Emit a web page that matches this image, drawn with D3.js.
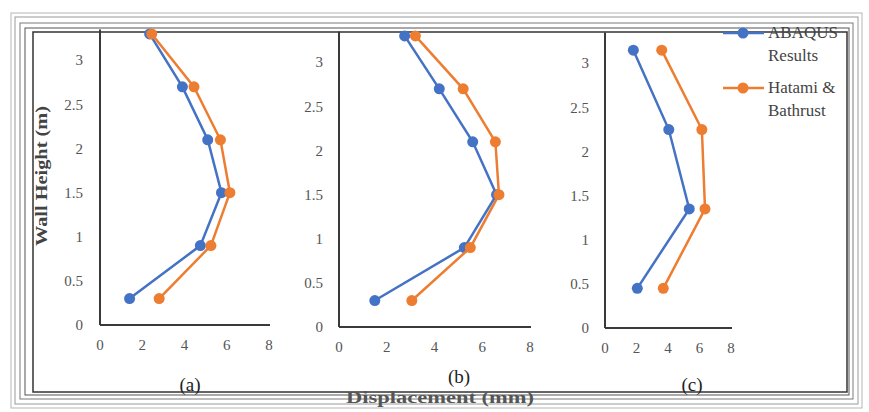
<!DOCTYPE html>
<html>
<head>
<meta charset="utf-8">
<script src="https://cdn.jsdelivr.net/npm/d3@7/dist/d3.min.js"></script>
<style>
  html, body { margin: 0; padding: 0; background: #fff; }
  svg { display: block; }
  text { font-family: "Liberation Serif", "DejaVu Serif", serif; }
</style>
</head>
<body>
<svg id="chart" width="869" height="412"></svg>
<script>
// Wall displacement profiles: ABAQUS results vs. Hatami & Bathurst
const seriesNames = ["ABAQUS Results", "Hatami & Bathrust"];
const panelLabels = ["(a)", "(b)", "(c)"];
const xTicks = [0, 2, 4, 6, 8];
const yTicks = [0, 0.5, 1, 1.5, 2, 2.5, 3];

// heights (m) of the measuring points
const heightsAB = [3.3, 2.7, 2.1, 1.5, 0.9, 0.3];
const heightsC = [3.15, 2.25, 1.35, 0.45];

// displacement (mm) at each height
const aAbaqus = [2.35, 3.9, 5.1, 5.75, 4.75, 1.4];
const aHatami = [2.45, 4.45, 5.7, 6.15, 5.25, 2.8];
const bAbaqus = [2.75, 4.2, 5.6, 6.6, 5.25, 1.5];
const bHatami = [3.2, 5.2, 6.55, 6.7, 5.5, 3.05];
const cAbaqus = [1.8, 4.05, 5.35, 2.05];
const cHatami = [3.6, 6.15, 6.35, 3.7];

const colors = ["#4472C4", "#ED7D31"];

const svg = d3.select("#chart");

// ---- decorative frame ----
const frame = svg.append("g").attr("fill", "none");
frame.append("rect").attr("x", 11).attr("y", 13).attr("width", 851).attr("height", 395)
  .attr("stroke", "#b5b5b5").attr("stroke-width", 1);
frame.append("rect").attr("x", 15).attr("y", 17).attr("width", 843).attr("height", 387)
  .attr("stroke", "#9a9a9a").attr("stroke-width", 1);
frame.append("rect").attr("x", 20).attr("y", 23).attr("width", 833).attr("height", 376)
  .attr("stroke", "#7a7a7a").attr("stroke-width", 1);
frame.append("rect").attr("x", 25).attr("y", 28).attr("width", 824).attr("height", 367)
  .attr("stroke", "#555").attr("stroke-width", 1);
frame.append("rect").attr("x", 33).attr("y", 32).attr("width", 814).attr("height", 360)
  .attr("stroke", "#333").attr("stroke-width", 1.5);

// ---- panels ----
const panels = [
  { label: panelLabels[0], heights: heightsAB, series: [aAbaqus, aHatami],
    x0: 100, x1: 269, y0: 325, tickRight: 83, labelX: 190, labelY: 391 },
  { label: panelLabels[1], heights: heightsAB, series: [bAbaqus, bHatami],
    x0: 339, x1: 530, y0: 327, tickRight: 323, labelX: 459, labelY: 383 },
  { label: panelLabels[2], heights: heightsC, series: [cAbaqus, cHatami],
    x0: 605, x1: 731, y0: 328, tickRight: 589, labelX: 692, labelY: 391 }
];

const pxPerMetre = 88.2;

panels.forEach(p => {
  const g = svg.append("g");
  const x = d3.scaleLinear().domain([0, 8]).range([p.x0, p.x1]);
  const yTop = 3.35;
  const y = d3.scaleLinear().domain([0, yTop]).range([p.y0, p.y0 - yTop * pxPerMetre]);

  // axes lines
  g.append("line").attr("x1", p.x0).attr("x2", p.x0)
    .attr("y1", p.y0).attr("y2", y(yTop))
    .attr("stroke", "#3a3a3a").attr("stroke-width", 2);
  g.append("line").attr("x1", p.x0).attr("x2", p.x1 + 1)
    .attr("y1", p.y0).attr("y2", p.y0)
    .attr("stroke", "#3a3a3a").attr("stroke-width", 2);

  // x tick labels
  g.selectAll(".xt").data(xTicks).enter().append("text")
    .attr("x", d => x(d)).attr("y", p.y0 + 25)
    .attr("text-anchor", "middle")
    .attr("font-size", 15).attr("fill", "#555")
    .text(d => d);

  // y tick labels
  g.selectAll(".yt").data(yTicks).enter().append("text")
    .attr("x", p.tickRight).attr("y", d => y(d) + 5)
    .attr("text-anchor", "end")
    .attr("font-size", 15).attr("fill", "#555")
    .text(d => d);

  // series lines and markers
  p.series.forEach((vals, i) => {
    const pts = vals.map((v, k) => [v, p.heights[k]]);
    g.append("path")
      .datum(pts)
      .attr("fill", "none")
      .attr("stroke", colors[i])
      .attr("stroke-width", 2.5)
      .attr("d", d3.line().x(d => x(d[0])).y(d => y(d[1])));
    g.selectAll(".m" + i).data(pts).enter().append("circle")
      .attr("cx", d => x(d[0])).attr("cy", d => y(d[1]))
      .attr("r", 5.5).attr("fill", colors[i]);
  });

  // panel caption
  g.append("text").attr("x", p.labelX).attr("y", p.labelY)
    .attr("text-anchor", "middle").attr("font-size", 19).attr("fill", "#222")
    .text(p.label);
});

// ---- axis titles ----
svg.append("text")
  .attr("transform", "translate(47,176) rotate(-90)")
  .attr("text-anchor", "middle")
  .attr("font-size", 17).attr("font-weight", "bold").attr("fill", "#444")
  .attr("textLength", 140).attr("lengthAdjust", "spacingAndGlyphs")
  .text("Wall Height (m)");

svg.append("text")
  .attr("x", 440).attr("y", 403)
  .attr("text-anchor", "middle")
  .attr("font-size", 17).attr("font-weight", "bold").attr("fill", "#555")
  .attr("textLength", 188).attr("lengthAdjust", "spacingAndGlyphs")
  .text("Displacement (mm)");

// ---- legend ----
const legend = svg.append("g");
const legendRows = [
  { y: 33, lines: ["ABAQUS", "Results"] },
  { y: 88, lines: ["Hatami &", "Bathrust"] }
];
legendRows.forEach((r, i) => {
  legend.append("line").attr("x1", 723).attr("x2", 764)
    .attr("y1", r.y).attr("y2", r.y)
    .attr("stroke", colors[i]).attr("stroke-width", 2.5);
  legend.append("circle").attr("cx", 743).attr("cy", r.y).attr("r", 5.5)
    .attr("fill", colors[i]);
  r.lines.forEach((t, k) => {
    legend.append("text").attr("x", 768).attr("y", r.y + 5 + k * 23)
      .attr("font-size", 17).attr("fill", "#444").text(t);
  });
});
</script>
</body>
</html>
